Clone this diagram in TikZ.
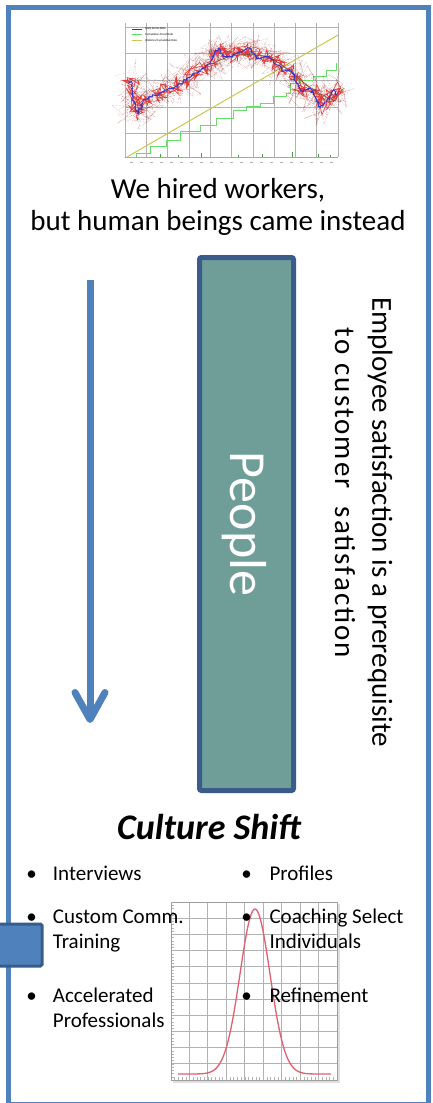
\documentclass[tikz,border=0pt]{standalone}
\usepackage{fontspec}
\setmainfont{Carlito}
\usetikzlibrary{arrows.meta,decorations.pathmorphing}
\definecolor{frameblue}{HTML}{4F81BD}
\definecolor{boxfill}{HTML}{6F9E99}
\definecolor{boxline}{HTML}{3B5C8A}
\definecolor{tabfill}{HTML}{4F81BD}
\definecolor{tabline}{HTML}{385D8A}
\definecolor{chartred}{HTML}{E03A3A}
\definecolor{chartblue}{HTML}{3434C8}
\definecolor{chartgreen}{HTML}{66DD66}
\definecolor{chartyellow}{HTML}{C8C850}
\definecolor{bellred}{HTML}{E06070}
\tikzset{
  bigtext/.style={font=\fontsize{29}{32}\selectfont, align=center, inner sep=0pt},
  sidetext/.style={font=\fontsize{29}{35}\selectfont, rotate=-90, inner sep=0pt},
  peoplebox/.style={draw=boxline, fill=boxfill, line width=5pt, rounded corners=2pt},
  bulletmark/.style={anchor=base, font=\fontsize{21}{25}\selectfont, inner sep=0pt},
  itemtext/.style={anchor=base west, font=\fontsize{21}{25}\selectfont, inner sep=0pt},
  gridline/.style={gray!60, line width=0.8pt},
  chartgrid/.style={gray!60, line width=0.6pt},
}
\begin{document}
\begin{tikzpicture}[x=1pt,y=-1pt]
\useasboundingbox (0,0) rectangle (432,1103);
\fill[white] (0,0) rectangle (432,1103);

% ---------- top chart ----------
\foreach \i in {0,...,10} {\draw[chartgrid] ({125+\i*21.3},23) -- ({125+\i*21.3},157);}
\foreach \yy in {27,53,80,107,133,157} {\draw[chartgrid] (125,\yy) -- (338,\yy);}
\draw[gray!70, line width=0.8pt] (125,157) -- (338,157);
\foreach \i in {0,...,20} {\draw[gray!60, line width=1pt] ({130+\i*10},162) -- ({133+\i*10},162);}
% legend
\draw[chartblue, line width=0.8pt] (132,29) -- (142,29);
\node[anchor=west, font=\fontsize{3}{3}\selectfont, inner sep=0pt] (leg1) at (145,29) {Daily Arrest Rate};
\draw[chartgreen, line width=0.8pt] (132,34.3) -- (142,34.3);
\node[anchor=west, font=\fontsize{3}{3}\selectfont, inner sep=0pt] (leg2) at (145,34.3) {Cumulative Arrest Rate};
\draw[chartyellow, line width=0.8pt] (132,40.7) -- (142,40.7);
\node[anchor=west, font=\fontsize{3}{3}\selectfont, inner sep=0pt] (leg3) at (145,40.7) {Historical Cumulative Rate};
% yellow
\draw[chartyellow, line width=1pt] (127,157) -- (338,35);
% green steps
\draw[chartgreen, line width=1pt] (128,157) -| (136.7,153.3) -| (150,146.7) -| (166.7,140) -| (180,131.7) -| (200,125) -| (216.7,118.3) -| (233.3,110) -| (246.7,106.7) -| (260,103.3) -| (273.3,96.7) -| (286.7,93.3) -| (290,83.3) -| (300,80) -| (313.3,76.7) -| (326.7,70) -| (336.7,63.3);
% noise and daily line
\def\dailypath{(128.3,83.3) -- (131.7,81.7) -- (135,106.7) -- (138.3,113.3) -- (143.3,100) -- (150,96.7) -- (158.3,95) -- (166.7,90) -- (173.3,88.3) -- (183.3,81.7) -- (193.3,73.3) -- (203.3,68.3) -- (210,63.3) -- (218.3,48.3) -- (223.3,56.7) -- (230,56.7) -- (240,51.7) -- (250,48.3) -- (256.7,58.3) -- (266.7,56.7) -- (273.3,60) -- (281.7,70) -- (291.7,71.7) -- (296.7,83.3) -- (303.3,91.7) -- (310,88.3) -- (315,96.7) -- (320,106.7) -- (326.7,101.7) -- (333.3,90) -- (336.7,95)}
\pgfmathsetseed{7}
\draw[red!50!black, opacity=0.45, line width=0.4pt, densely dotted, decorate, decoration={random steps, segment length=0.8pt, amplitude=20pt}] \dailypath;
\draw[red!70!black, opacity=0.5, line width=0.4pt, dotted, decorate, decoration={random steps, segment length=0.8pt, amplitude=13pt}] \dailypath;
\draw[chartred, line width=0.6pt, decorate, decoration={random steps, segment length=0.9pt, amplitude=8pt}] \dailypath;
\draw[brown!60!black, line width=0.6pt] (213,64) .. controls (225,55) and (250,52) .. (268,57) .. controls (285,63) and (305,90) .. (336,101);
\draw[chartblue, line width=1pt, decorate, decoration={random steps, segment length=2pt, amplitude=1.5pt}] \dailypath;
\foreach \xx/\hh in {160/3, 178/2, 201/4, 238/2, 262/3, 292/5, 318/3, 330/2} {\draw[chartgreen!70!black, line width=0.5pt] (\xx,157) -- (\xx,{157-\hh});}

% ---------- frame ----------
\draw[frameblue, line width=5pt] (8.3,7.5) rectangle (428.7,1104.5);

% ---------- heading ----------
\node[bigtext] (heading) at (218,207) {We hired workers,\\but human beings came instead};

% ---------- arrow ----------
\coordinate (arrtop) at (90,280);
\coordinate (arrtip) at (90,723);
\draw[frameblue, line width=7pt, -{Straight Barb[length=27pt, width=30pt, round]}] (arrtop) -- (arrtip);

% ---------- people box ----------
\node[peoplebox, minimum width=94pt, minimum height=533pt, inner sep=0pt] (people) at (246.5,524) {};
\node[font=\fontsize{52}{52}\selectfont, text=white, rotate=-90, inner sep=0pt] (peoplelbl) at (244,524) {People};

% ---------- side text ----------
\node[sidetext] (side1) at (380,522) {Employee satisfaction is a prerequisite};
\node[sidetext] (side2) at (345,493) {\addfontfeatures{LetterSpace=7}to\hspace{9pt}customer\hspace{18pt}satisfaction};

% ---------- culture shift ----------
\node[font=\fontsize{36}{36}\selectfont\bfseries\itshape, inner sep=0pt] (culture) at (209,827) {Culture Shift};

% ---------- bell chart ----------
\fill[gray!25] (173,904) rectangle (340,1083);
\fill[white] (171,902) rectangle (337,1080);
\foreach \i in {1,...,8} {\draw[gridline] ({171+\i*18.44},902) -- ({171+\i*18.44},1080);}
\foreach \j in {1,...,10} {\draw[gridline] (171,{902+\j*16.18}) -- (337,{902+\j*16.18});}
\foreach \j in {0,...,54} {\draw[gray!60, line width=0.4pt] (171,{902+\j*3.236}) -- (174,{902+\j*3.236});}
\foreach \i in {0,...,45} {\draw[gray!60, line width=0.4pt] ({171+\i*3.688},1080) -- ({171+\i*3.688},1077);}
\draw[gray!75, line width=1pt] (171,902) rectangle (337,1080);
\draw[bellred, line width=1.3pt] plot[domain=178:331, samples=120, smooth] (\x, {1074-165*exp(-((\x-255)^2)/450)});

% ---------- blue tab ----------
\draw[tabline, fill=tabfill, line width=3pt, rounded corners=1.5pt] (-3,924) rectangle (42,966);

% ---------- bullets ----------
\node[bulletmark] (b1) at (31.7,880) {•};
\node[itemtext] (t1) at (52.7,880) {Interviews};
\node[bulletmark] (b2) at (31.7,923) {•};
\node[itemtext] (t2) at (52.7,923) {\begin{tabular}[t]{@{}l@{}}Custom Comm.\\Training\end{tabular}};
\node[bulletmark] (b3) at (31.7,1002) {•};
\node[itemtext] (t3) at (52.7,1002) {\begin{tabular}[t]{@{}l@{}}Accelerated\\Professionals\end{tabular}};
\node[bulletmark] (b4) at (246.7,880) {•};
\node[itemtext] (t4) at (269.3,880) {Profiles};
\node[bulletmark] (b5) at (246.7,923) {•};
\node[itemtext] (t5) at (269.3,923) {\begin{tabular}[t]{@{}l@{}}Coaching Select\\Individuals\end{tabular}};
\node[bulletmark] (b6) at (246.7,1002) {•};
\node[itemtext] (t6) at (269.3,1002) {Refinement};
\end{tikzpicture}
\end{document}
